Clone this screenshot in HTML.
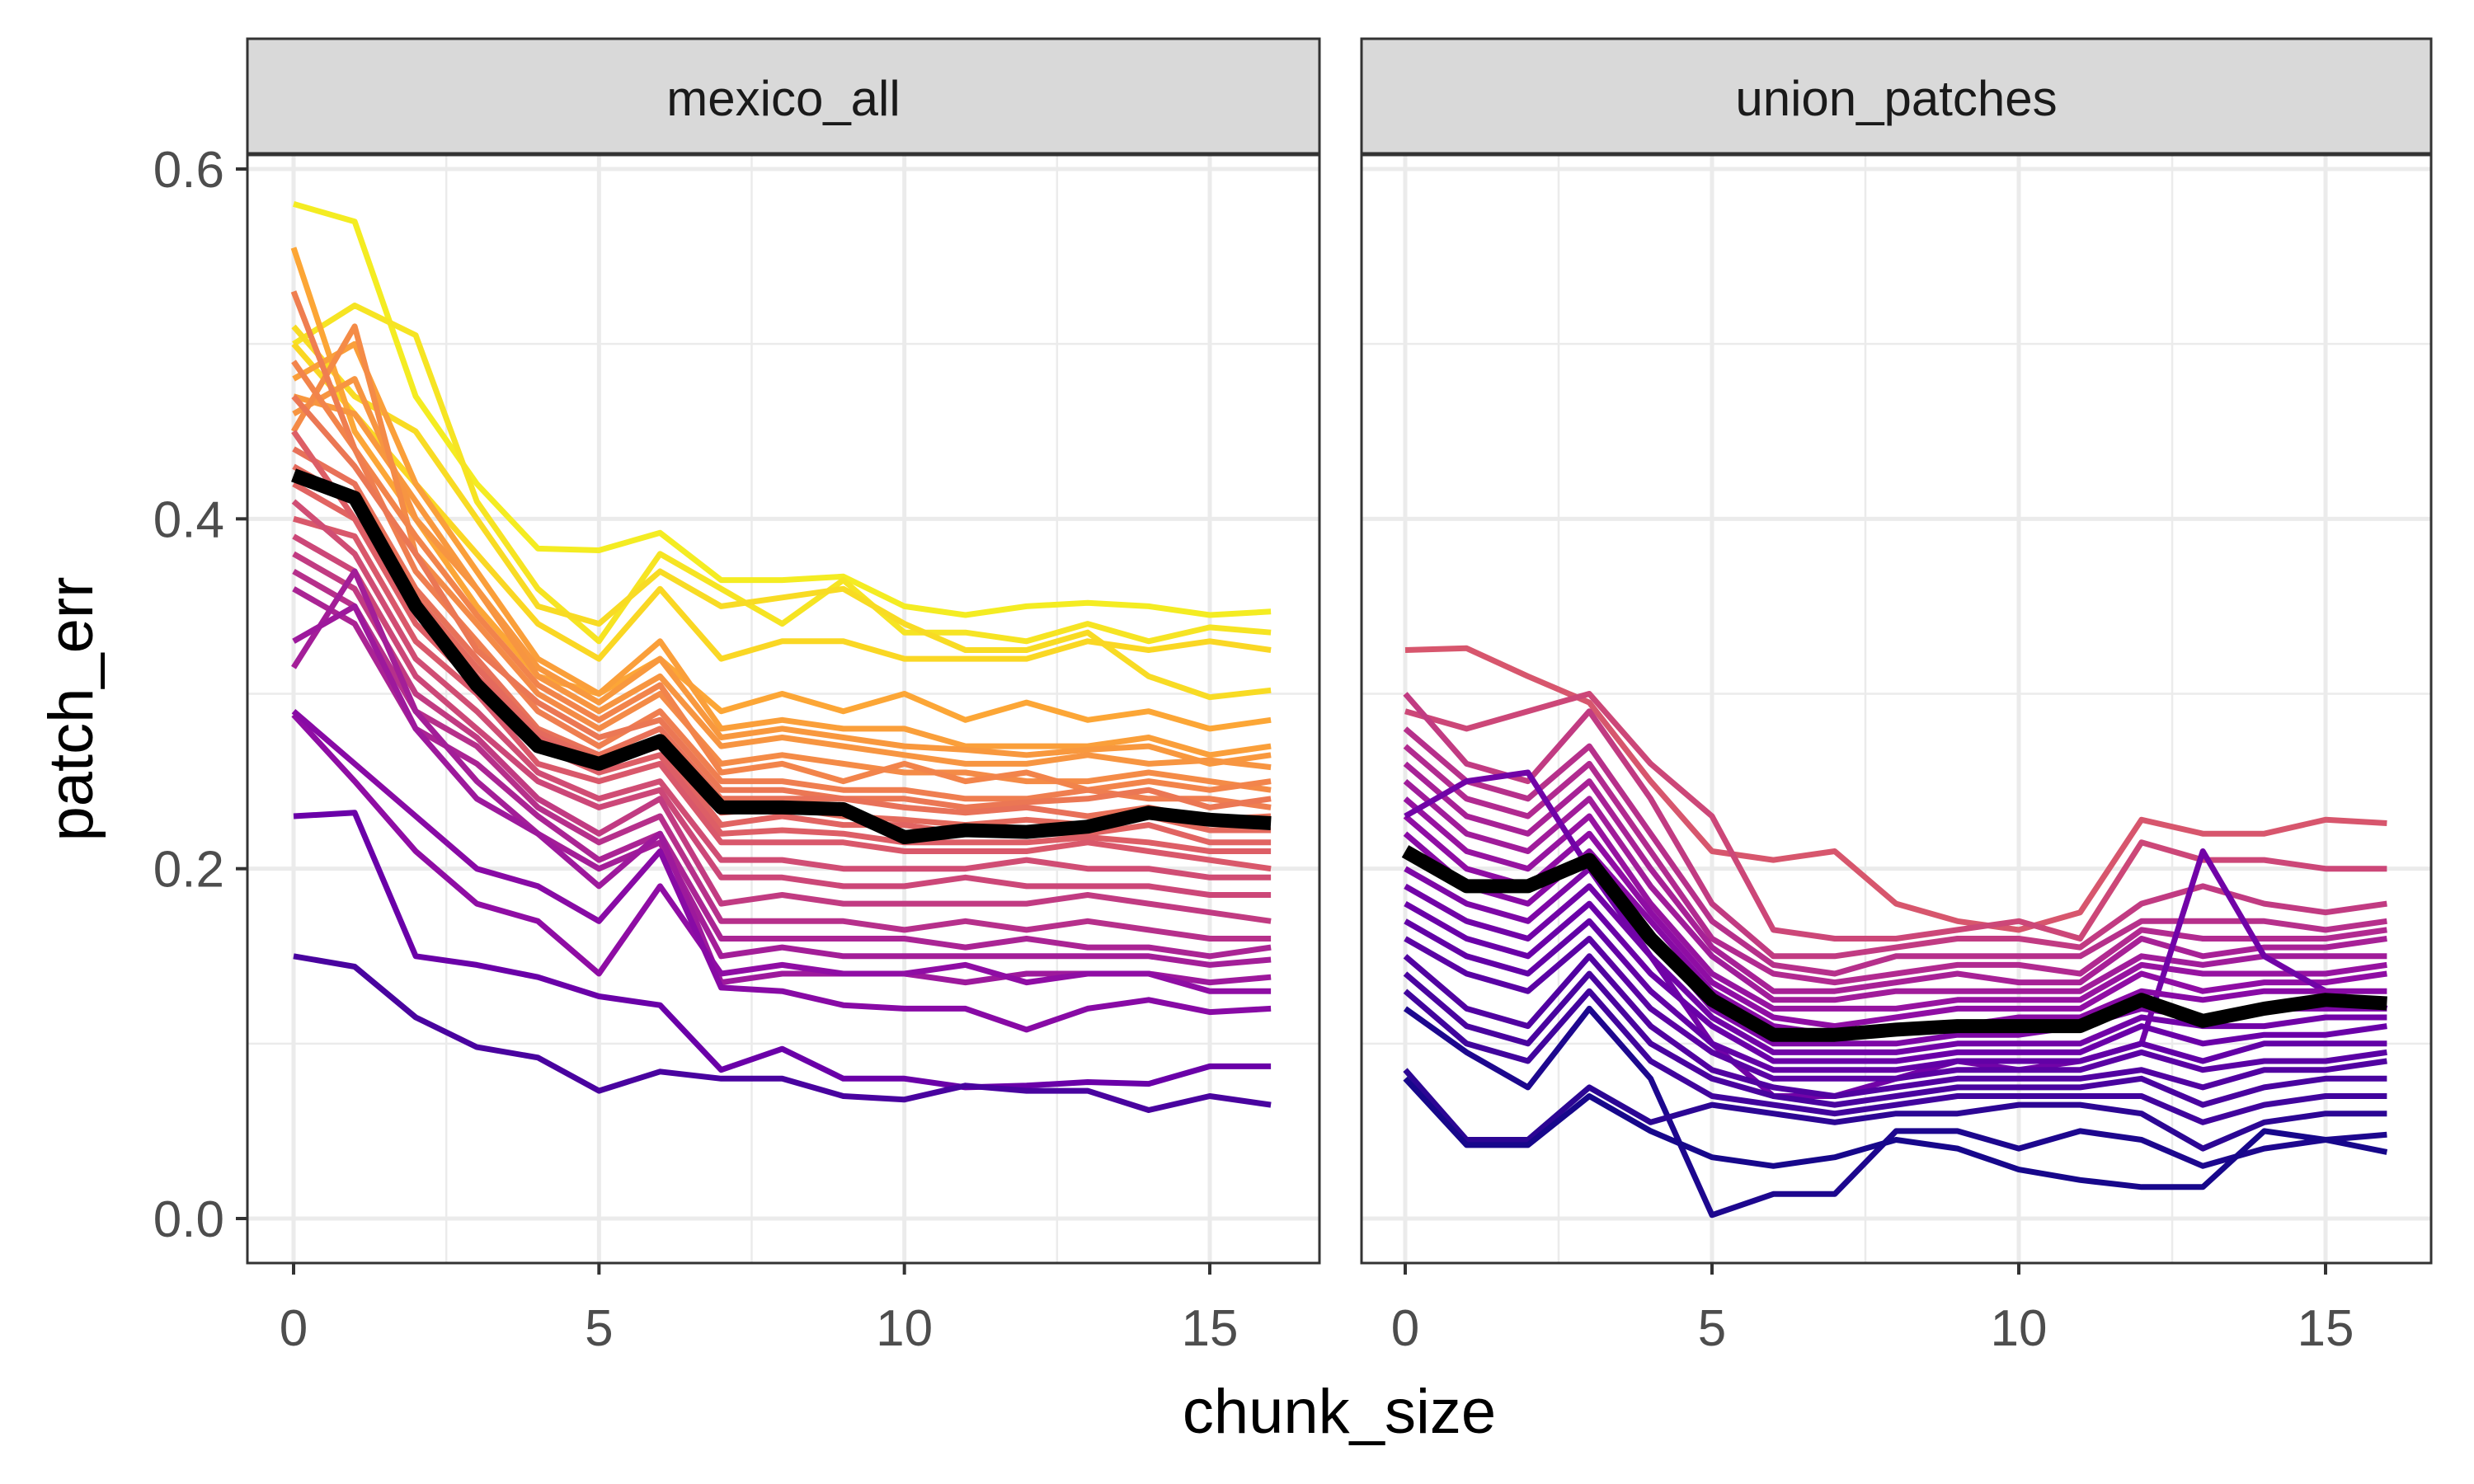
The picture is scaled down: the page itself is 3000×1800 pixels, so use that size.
<!DOCTYPE html>
<html><head><meta charset="utf-8">
<style>
html,body{margin:0;padding:0;background:#fff;}
svg{display:block;font-family:"Liberation Sans",Arial,sans-serif;}
</style></head>
<body>
<svg id="chart" width="3000" height="1800" viewBox="0 0 3000 1800" xmlns="http://www.w3.org/2000/svg"></svg>
<script>
const xValues = [0,1,2,3,4,5,6,7,8,9,10,11,12,13,14,15,16];
const xTicks = [0,5,10,15];
const yTicks = [0.0,0.2,0.4,0.6];
const yTickLabels = ["0.0","0.2","0.4","0.6"];
const panelNames = ["mexico_all","union_patches"];

const leftSeries = [
[0.58,0.57,0.47,0.42,0.383,0.382,0.392,0.365,0.365,0.367,0.35,0.345,0.35,0.352,0.35,0.345,0.347],
[0.5,0.522,0.505,0.41,0.36,0.33,0.38,0.36,0.34,0.365,0.335,0.335,0.33,0.34,0.33,0.338,0.335],
[0.51,0.47,0.45,0.40,0.35,0.34,0.37,0.35,0.355,0.36,0.34,0.325,0.325,0.335,0.31,0.298,0.302],
[0.50,0.46,0.42,0.38,0.34,0.32,0.36,0.32,0.33,0.33,0.32,0.32,0.32,0.33,0.325,0.33,0.325],
[0.555,0.45,0.40,0.35,0.31,0.30,0.32,0.29,0.30,0.29,0.30,0.285,0.295,0.285,0.29,0.28,0.285],
[0.48,0.50,0.42,0.37,0.32,0.30,0.33,0.28,0.285,0.28,0.28,0.27,0.27,0.27,0.275,0.265,0.27],
[0.47,0.46,0.41,0.36,0.315,0.295,0.32,0.275,0.28,0.275,0.27,0.268,0.265,0.268,0.27,0.26,0.265],
[0.46,0.48,0.40,0.36,0.31,0.29,0.31,0.27,0.275,0.27,0.265,0.26,0.26,0.265,0.26,0.262,0.258],
[0.45,0.51,0.38,0.34,0.30,0.28,0.30,0.26,0.265,0.26,0.255,0.255,0.25,0.25,0.255,0.25,0.245],
[0.49,0.44,0.39,0.345,0.305,0.285,0.305,0.255,0.26,0.25,0.26,0.25,0.255,0.245,0.25,0.245,0.25],
[0.53,0.44,0.37,0.33,0.29,0.27,0.29,0.25,0.25,0.245,0.245,0.24,0.24,0.245,0.24,0.24,0.235],
[0.47,0.43,0.38,0.325,0.295,0.275,0.285,0.245,0.245,0.24,0.24,0.235,0.238,0.24,0.245,0.235,0.24],
[0.44,0.42,0.36,0.32,0.28,0.265,0.28,0.24,0.24,0.24,0.235,0.232,0.235,0.23,0.235,0.228,0.23],
[0.43,0.41,0.355,0.315,0.278,0.262,0.275,0.232,0.235,0.23,0.228,0.225,0.228,0.225,0.23,0.222,0.222],
[0.42,0.40,0.35,0.31,0.275,0.26,0.27,0.225,0.23,0.225,0.225,0.22,0.22,0.22,0.225,0.215,0.215],
[0.45,0.40,0.34,0.305,0.27,0.255,0.265,0.22,0.222,0.22,0.215,0.215,0.215,0.218,0.215,0.21,0.21],
[0.40,0.39,0.33,0.30,0.26,0.25,0.26,0.215,0.215,0.215,0.21,0.21,0.21,0.215,0.21,0.205,0.2],
[0.41,0.38,0.32,0.29,0.255,0.24,0.25,0.205,0.205,0.2,0.2,0.2,0.205,0.2,0.2,0.195,0.195],
[0.39,0.37,0.31,0.28,0.25,0.235,0.245,0.195,0.195,0.19,0.19,0.195,0.19,0.19,0.19,0.185,0.185],
[0.38,0.36,0.30,0.275,0.24,0.22,0.24,0.18,0.185,0.18,0.18,0.18,0.18,0.185,0.18,0.175,0.17],
[0.37,0.35,0.29,0.27,0.235,0.215,0.23,0.17,0.17,0.17,0.165,0.17,0.165,0.17,0.165,0.16,0.16],
[0.36,0.34,0.28,0.26,0.23,0.205,0.22,0.16,0.16,0.16,0.16,0.155,0.16,0.155,0.155,0.15,0.155],
[0.315,0.37,0.29,0.25,0.22,0.20,0.215,0.15,0.155,0.15,0.15,0.15,0.15,0.15,0.15,0.145,0.148],
[0.33,0.35,0.28,0.24,0.22,0.19,0.22,0.135,0.14,0.14,0.14,0.135,0.14,0.14,0.14,0.135,0.138],
[0.288,0.25,0.21,0.18,0.17,0.14,0.19,0.14,0.145,0.14,0.14,0.145,0.135,0.14,0.14,0.13,0.13],
[0.29,0.26,0.23,0.20,0.19,0.17,0.21,0.132,0.13,0.122,0.12,0.12,0.108,0.12,0.125,0.118,0.12],
[0.23,0.232,0.15,0.145,0.138,0.127,0.122,0.085,0.097,0.08,0.08,0.075,0.076,0.078,0.077,0.087,0.087],
[0.15,0.144,0.115,0.098,0.092,0.073,0.084,0.08,0.08,0.07,0.068,0.076,0.073,0.073,0.062,0.07,0.065]
];
const leftColors = [0.97,0.95,0.93,0.92,0.8,0.78,0.76,0.75,0.72,0.7,0.68,0.66,0.64,0.62,0.6,0.58,0.56,0.52,0.5,0.46,0.42,0.38,0.36,0.34,0.3,0.28,0.2,0.12];
const leftMean = [0.425,0.412,0.35,0.305,0.27,0.26,0.273,0.235,0.235,0.234,0.218,0.222,0.221,0.224,0.232,0.228,0.226];

const rightSeries = [
[0.325,0.326,0.31,0.295,0.25,0.21,0.205,0.21,0.18,0.17,0.165,0.175,0.228,0.22,0.22,0.228,0.226],
[0.29,0.28,0.29,0.3,0.26,0.23,0.165,0.16,0.16,0.165,0.17,0.16,0.215,0.205,0.205,0.2,0.2],
[0.3,0.26,0.25,0.29,0.24,0.18,0.15,0.15,0.155,0.16,0.16,0.155,0.18,0.19,0.18,0.175,0.18],
[0.28,0.25,0.24,0.27,0.22,0.17,0.145,0.14,0.15,0.15,0.15,0.15,0.17,0.17,0.17,0.165,0.17],
[0.27,0.24,0.23,0.26,0.21,0.16,0.14,0.135,0.14,0.145,0.145,0.14,0.165,0.16,0.16,0.16,0.165],
[0.26,0.23,0.22,0.25,0.2,0.155,0.13,0.13,0.135,0.14,0.135,0.135,0.16,0.15,0.155,0.155,0.16],
[0.25,0.22,0.21,0.24,0.19,0.15,0.125,0.125,0.13,0.13,0.13,0.13,0.15,0.145,0.15,0.15,0.15],
[0.24,0.21,0.2,0.23,0.18,0.14,0.12,0.12,0.12,0.125,0.125,0.125,0.145,0.14,0.14,0.14,0.145],
[0.23,0.2,0.19,0.22,0.175,0.135,0.115,0.11,0.115,0.12,0.12,0.12,0.14,0.13,0.135,0.135,0.14],
[0.23,0.25,0.255,0.2,0.15,0.1,0.07,0.07,0.08,0.09,0.085,0.09,0.1,0.21,0.15,0.13,0.12],
[0.22,0.19,0.18,0.21,0.17,0.13,0.11,0.105,0.11,0.11,0.115,0.115,0.13,0.125,0.13,0.13,0.13],
[0.2,0.18,0.17,0.2,0.16,0.12,0.1,0.1,0.1,0.105,0.105,0.11,0.12,0.115,0.12,0.12,0.12],
[0.19,0.17,0.16,0.19,0.15,0.115,0.095,0.095,0.095,0.1,0.1,0.1,0.115,0.11,0.11,0.115,0.115],
[0.18,0.16,0.15,0.18,0.14,0.11,0.09,0.09,0.09,0.095,0.095,0.095,0.11,0.1,0.105,0.105,0.11],
[0.17,0.15,0.14,0.17,0.13,0.1,0.085,0.085,0.085,0.09,0.09,0.09,0.1,0.09,0.1,0.1,0.1],
[0.16,0.14,0.13,0.16,0.12,0.095,0.08,0.08,0.08,0.085,0.085,0.085,0.095,0.085,0.09,0.09,0.095],
[0.15,0.12,0.11,0.15,0.11,0.085,0.075,0.07,0.075,0.08,0.08,0.08,0.085,0.075,0.085,0.085,0.09],
[0.14,0.11,0.1,0.14,0.1,0.08,0.07,0.065,0.07,0.075,0.075,0.075,0.08,0.065,0.075,0.08,0.08],
[0.13,0.1,0.09,0.13,0.09,0.07,0.065,0.06,0.065,0.07,0.07,0.07,0.07,0.055,0.065,0.07,0.07],
[0.12,0.095,0.075,0.12,0.08,0.002,0.014,0.014,0.05,0.05,0.04,0.05,0.045,0.03,0.04,0.045,0.048],
[0.085,0.045,0.045,0.075,0.055,0.065,0.06,0.055,0.06,0.06,0.065,0.065,0.06,0.04,0.055,0.06,0.06],
[0.08,0.042,0.042,0.07,0.05,0.035,0.03,0.035,0.045,0.04,0.028,0.022,0.018,0.018,0.05,0.045,0.038]
];
const rightColors = [0.55,0.5,0.46,0.42,0.4,0.37,0.35,0.32,0.3,0.22,0.28,0.25,0.22,0.2,0.18,0.16,0.14,0.12,0.1,0.03,0.06,0.02];
const rightMean = [0.21,0.19,0.19,0.205,0.16,0.125,0.105,0.105,0.108,0.11,0.11,0.11,0.125,0.113,0.12,0.125,0.123];

const NS = "http://www.w3.org/2000/svg";
const svg = document.getElementById('chart');
const plasma = ["#0d0887","#41049d","#6a00a8","#8f0da4","#b12a90","#cc4778","#e16462","#f2844b","#fca636","#fcce25","#f0f921"];
function hex(h){return [1,3,5].map(i=>parseInt(h.substr(i,2),16));}
function plasmaColor(t){
  t=Math.max(0,Math.min(1,t));const p=t*10;const i=Math.min(9,Math.floor(p));const f=p-i;
  const a=hex(plasma[i]),b=hex(plasma[i+1]);
  return "rgb("+a.map((v,k)=>Math.round(v+(b[k]-v)*f)).join(",")+")";
}
function mk(tag,attrs,parent){const e=document.createElementNS(NS,tag);for(const k in attrs)e.setAttribute(k,attrs[k]);(parent||svg).appendChild(e);return e;}

const plotTop=188, plotBottom=1532;
function yScale(v){return 1478 - v*(1478-205)/0.6;}
const panels=[
 {left:300,right:1600,x0:356,x15:1467,series:leftSeries,colors:leftColors,mean:leftMean},
 {left:1651,right:2948,x0:1704,x15:2820,series:rightSeries,colors:rightColors,mean:rightMean}
];

panels.forEach((p,pi)=>{
  const xs=v=>p.x0+v*(p.x15-p.x0)/15;
  const g=mk('g',{});
  
  
  mk('rect',{x:p.left,y:plotTop,width:p.right-p.left,height:plotBottom-plotTop,fill:'#fff'},g);
  [2.5,7.5,12.5].forEach(v=>{const l=mk('line',{x1:xs(v),x2:xs(v),y1:plotTop,y2:plotBottom,stroke:'#ebebeb','stroke-width':2.5},g);
    });
  [0.1,0.3,0.5].forEach(v=>{const l=mk('line',{x1:p.left,x2:p.right,y1:yScale(v),y2:yScale(v),stroke:'#ebebeb','stroke-width':2.5},g);
    });
  xTicks.forEach(v=>{const l=mk('line',{x1:xs(v),x2:xs(v),y1:plotTop,y2:plotBottom,stroke:'#ebebeb','stroke-width':5},g);
    });
  yTicks.forEach(v=>{const l=mk('line',{x1:p.left,x2:p.right,y1:yScale(v),y2:yScale(v),stroke:'#ebebeb','stroke-width':5},g);
    });
  p.series.forEach((s,si)=>{
    const d=s.map((v,i)=>(i?'L':'M')+xs(xValues[i]).toFixed(1)+' '+yScale(v).toFixed(1)).join(' ');
    const path=mk('path',{d:d,fill:'none',stroke:plasmaColor(p.colors[si]),'stroke-width':7,'stroke-linejoin':'round'},g);
    
    
  });
  const dm=p.mean.map((v,i)=>(i?'L':'M')+xs(xValues[i]).toFixed(1)+' '+yScale(v).toFixed(1)).join(' ');
  const mp=mk('path',{d:dm,fill:'none',stroke:'#000','stroke-width':17,'stroke-linejoin':'round'},g);
  
  
  const b=mk('rect',{x:p.left,y:plotTop,width:p.right-p.left,height:plotBottom-plotTop,fill:'none',stroke:'#333','stroke-width':3},g);
  
  const st=mk('rect',{x:p.left,y:47,width:p.right-p.left,height:139,fill:'#d9d9d9',stroke:'#333','stroke-width':3},g);
  
  const stt=mk('text',{x:(p.left+p.right)/2,y:140,'text-anchor':'middle','font-size':60,fill:'#1a1a1a'},g);
  stt.textContent=panelNames[pi];
  
  xTicks.forEach(v=>{
    const t=mk('line',{x1:xs(v),x2:xs(v),y1:plotBottom,y2:plotBottom+14,stroke:'#333','stroke-width':4},g);
    
    const tl=mk('text',{x:xs(v),y:1632,'text-anchor':'middle','font-size':62,fill:'#4d4d4d'},g);
    tl.textContent=String(v);
    
  });
});
yTicks.forEach((v,i)=>{
  const t=mk('line',{x1:286,x2:300,y1:yScale(v),y2:yScale(v),stroke:'#333','stroke-width':4});
  
  const tl=mk('text',{x:272,y:yScale(v)+22,'text-anchor':'end','font-size':62,fill:'#4d4d4d'});
  tl.textContent=yTickLabels[i];
  
});
const yt=mk('text',{x:0,y:0,'text-anchor':'middle','font-size':76,fill:'#000',transform:'translate(112,860) rotate(-90)'});
yt.textContent='patch_err';

const xt=mk('text',{x:1624,y:1738,'text-anchor':'middle','font-size':76,fill:'#000'});
xt.textContent='chunk_size';

</script>
</body></html>
